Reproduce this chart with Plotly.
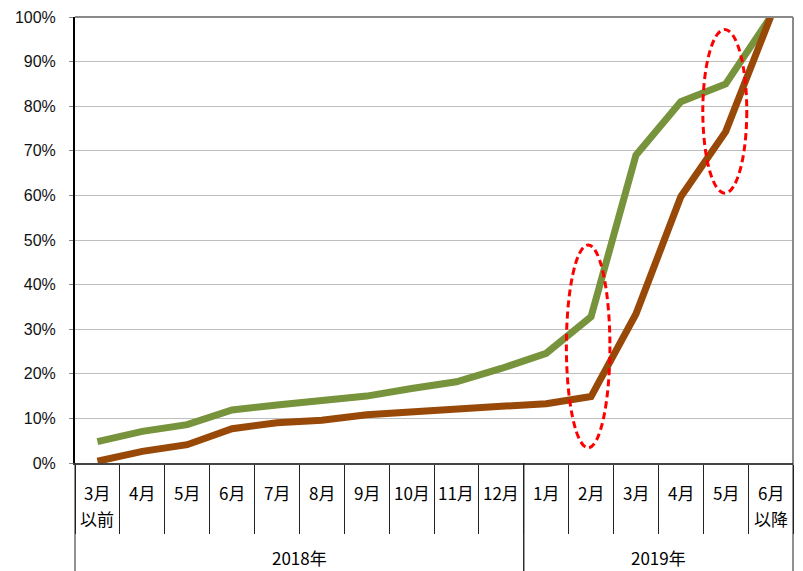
import plotly.graph_objects as go

months = ["3月", "4月", "5月", "6月", "7月", "8月", "9月", "10月", "11月", "12月",
          "1月", "2月", "3月", "4月", "5月", "6月"]
sub_labels = ["以前", "", "", "", "", "", "", "", "", "", "", "", "", "", "", "以降"]
years = ["2018年", "2019年"]
year_span = [(0, 9), (10, 15)]

green = [4.8, 7.1, 8.6, 11.9, 13.0, 13.9, 15.0, 16.7, 18.2, 21.2, 24.6, 32.8, 69.0, 81.0, 85.0, 100.0]
brown = [0.4, 2.6, 4.1, 7.7, 9.0, 9.6, 10.8, 11.5, 12.3, 12.7, 13.3, 14.9, 33.4, 59.7, 74.3, 100.0]

xi = list(range(len(months)))

W, H = 803, 571
L, T, PW, PH = 75, 17, 718, 446
B = H - T - PH

fig = go.Figure()
fig.add_trace(go.Scatter(x=xi, y=[v / 100 for v in green], mode="lines",
                         line=dict(color="#77933C", width=7)))
fig.add_trace(go.Scatter(x=xi, y=[v / 100 for v in brown], mode="lines",
                         line=dict(color="#984807", width=7)))

fig.update_layout(
    width=W, height=H,
    margin=dict(l=L, r=W - L - PW, t=T, b=B),
    plot_bgcolor="white", paper_bgcolor="white",
    showlegend=False,
    font=dict(family="Liberation Sans, Arial", size=16, color="#111"),
)
fig.update_yaxes(range=[0, 1], dtick=0.1, tickformat=".0%", automargin=False,
                 showgrid=True, gridcolor="#BEBEBE", gridwidth=1,
                 showline=True, linecolor="black", linewidth=2,
                 ticks="outside", ticklen=4, tickcolor="#888",
                 ticklabelstandoff=10, zeroline=False)
fig.update_xaxes(range=[-0.5, 15.5], tickvals=[i - 0.5 for i in range(17)],
                 showticklabels=False, ticks="outside", ticklen=69, automargin=False,
                 tickcolor="#222", tickwidth=1,
                 showgrid=False, zeroline=False,
                 showline=True, linecolor="#444", linewidth=2)

# border top/right
fig.add_shape(type="line", xref="paper", yref="paper", x0=0, x1=1, y0=1, y1=1,
              line=dict(color="#8a8a8a", width=2))
fig.add_shape(type="line", xref="paper", yref="paper", x0=1, x1=1, y0=0, y1=1,
              line=dict(color="#8a8a8a", width=2))

# year separators
for k, (a, b) in enumerate(year_span):
    for edge in (a - 0.5, b + 0.5):
        fig.add_shape(type="line", xref="paper", yref="paper",
                      x0=(edge + 0.5) / 16, x1=(edge + 0.5) / 16, y0=0, y1=-B / PH,
                      line=dict(color="#222", width=1))
    fig.add_annotation(x=(a + b) / 2, y=-(557 - 463) / PH, xref="x", yref="paper",
                       text=years[k], showarrow=False, yanchor="middle",
                       font=dict(family="Noto Sans CJK JP", size=17, color="#000"))

for i, m in enumerate(months):
    fig.add_annotation(x=i, y=-(492 - 463) / PH, xref="x", yref="paper", text=m,
                       showarrow=False, yanchor="middle",
                       font=dict(family="Noto Sans CJK JP", size=17, color="#000"))
    if sub_labels[i]:
        fig.add_annotation(x=i, y=-(518 - 463) / PH, xref="x", yref="paper",
                           text=sub_labels[i], showarrow=False, yanchor="middle",
                           font=dict(family="Noto Sans CJK JP", size=17, color="#000"))

# dashed ellipses
fig.add_shape(type="circle", xref="x", yref="y", x0=10.45, x1=11.42, y0=0.034, y1=0.489,
              line=dict(color="red", width=3, dash="7px,4px"))
fig.add_shape(type="circle", xref="x", yref="y", x0=13.49, x1=14.47, y0=0.605, y1=0.972,
              line=dict(color="red", width=3, dash="7px,4px"))

# drop the page's default body margin so the figure fills the window
fig.write_html("out.html", config={"displayModeBar": False},
               post_script="document.body.style.margin='0';document.body.style.overflow='hidden';")
